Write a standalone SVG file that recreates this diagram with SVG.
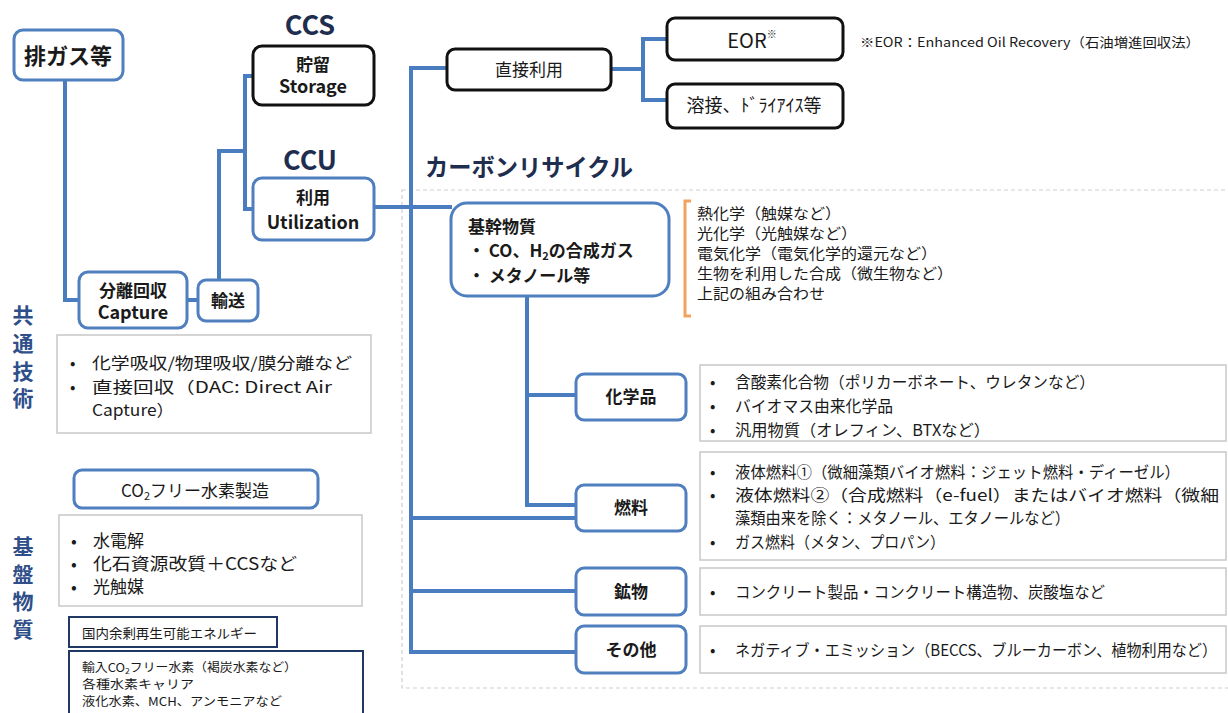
<svg xmlns="http://www.w3.org/2000/svg" width="1228" height="713" viewBox="0 0 1228 713">
<style>
text{font-family:"Noto Sans CJK JP","Noto Sans",sans-serif;fill:#1a1a1a}
.b{font-weight:bold}
.title{font-weight:bold;fill:#1f2d4f}
.side{font-weight:bold;fill:#2f4f8a;font-size:21px}
.conn{fill:none;stroke:#4a7cc0;stroke-width:4}
.bn{fill:#fff;stroke:#4f7fbf;stroke-width:3}
.kn{fill:#fff;stroke:#111;stroke-width:3}
.gb{fill:#fff;stroke:#c8c8c8;stroke-width:1.5}
.nb{fill:#fff;stroke:#1f3864;stroke-width:2}
.m{text-anchor:middle}
</style>
<rect x="402" y="190" width="840" height="498" fill="none" stroke="#cfcfcf" stroke-width="1.2" stroke-dasharray="4 3"/>
<g id="connectors">
<path class="conn" d="M65,80 V300 H80"/>
<path class="conn" d="M187,300 H198"/>
<path class="conn" d="M219,280 V151 H245"/>
<path class="conn" d="M253,76 H245 V209 H253"/>
<path class="conn" d="M374,207 H452"/>
<path class="conn" d="M447,68 H411 V652 H576"/>
<path class="conn" d="M411,518 H576"/>
<path class="conn" d="M411,591 H576"/>
<path class="conn" d="M611,69 H643"/>
<path class="conn" d="M667,39 H643 V100 H667"/>
<path class="conn" d="M527,296 V505 H576"/>
<path class="conn" d="M527,395 H576"/>
<path d="M691,201 H685 V316 H691" fill="none" stroke="#f0a25e" stroke-width="3"/>
</g>
<g id="haigas"><rect class="bn" x="14" y="30" width="109" height="50" rx="9"/><text class="b m" x="68" y="64" font-size="22">排ガス等</text></g>
<g id="capture"><rect class="bn" x="79" y="272" width="108" height="56" rx="9"/><text class="b m" x="133" y="297" font-size="17">分離回収</text><text class="b m" x="133" y="319" font-size="18">Capture</text></g>
<g id="yuso"><rect class="bn" x="198" y="280" width="60" height="41" rx="8"/><text class="b m" x="228" y="307" font-size="17">輸送</text></g>
<g id="ccs"><text class="title m" x="310" y="35" font-size="27">CCS</text><rect class="kn" x="253" y="46" width="121" height="59" rx="9"/><text class="b m" x="313" y="71" font-size="17">貯留</text><text class="b m" x="313" y="93" font-size="18">Storage</text></g>
<g id="ccu"><text class="title m" x="310" y="170" font-size="27">CCU</text><rect class="bn" x="253" y="178" width="121" height="62" rx="9"/><text class="b m" x="313" y="204" font-size="17">利用</text><text class="b m" x="313" y="229" font-size="18">Utilization</text></g>
<g id="chokusetsu"><rect class="kn" x="447" y="49" width="164" height="41" rx="8"/><text class="m" x="529" y="76" font-size="17">直接利用</text></g>
<g id="eor"><rect class="kn" x="667" y="18" width="176" height="42" rx="8"/><text class="m" x="752" y="48" font-size="20">EOR<tspan font-size="10" dy="-10">※</tspan></text></g>
<g id="yosetsu"><rect class="kn" x="667" y="84" width="176" height="44" rx="8"/><text class="m" x="754" y="112" font-size="18">溶接、ﾄﾞﾗｲｱｲｽ等</text></g>
<text x="860" y="47" font-size="13" fill="#333" textLength="340" lengthAdjust="spacingAndGlyphs">※EOR：Enhanced Oil Recovery（石油増進回収法）</text>
<g id="carbon-recycle"><text class="title" x="425" y="176" font-size="24" textLength="208" lengthAdjust="spacingAndGlyphs">カーボンリサイクル</text></g>
<g id="kikan"><rect class="bn" x="451" y="203" width="218" height="93" rx="16"/>
<text class="b" x="468" y="233" font-size="17">基幹物質</text>
<text class="b" x="468" y="257" font-size="17">・  CO、H<tspan font-size="11" dy="3">2</tspan><tspan dy="-3">の合成ガス</tspan></text>
<text class="b" x="468" y="282" font-size="17">・  メタノール等</text></g>
<g id="methods" font-size="15">
<text x="697" y="219" textLength="144" lengthAdjust="spacingAndGlyphs">熱化学（触媒など）</text>
<text x="697" y="239" textLength="160" lengthAdjust="spacingAndGlyphs">光化学（光触媒など）</text>
<text x="697" y="259" textLength="240" lengthAdjust="spacingAndGlyphs">電気化学（電気化学的還元など）</text>
<text x="697" y="279" textLength="256" lengthAdjust="spacingAndGlyphs">生物を利用した合成（微生物など）</text>
<text x="697" y="299" textLength="128" lengthAdjust="spacingAndGlyphs">上記の組み合わせ</text></g>
<g id="kagaku"><rect class="bn" x="576" y="374" width="110" height="46" rx="8"/><text class="b m" x="631" y="403" font-size="17">化学品</text>
<rect class="gb" x="700" y="365" width="526" height="76"/>
<g font-size="16"><text x="710" y="388">•</text><text x="735" y="388" textLength="360" lengthAdjust="spacingAndGlyphs">含酸素化合物（ポリカーボネート、ウレタンなど）</text>
<text x="710" y="412">•</text><text x="735" y="412" textLength="158" lengthAdjust="spacingAndGlyphs">バイオマス由来化学品</text>
<text x="710" y="436">•</text><text x="735" y="436" textLength="255" lengthAdjust="spacingAndGlyphs">汎用物質（オレフィン、BTXなど）</text></g></g>
<g id="nenryo"><rect class="bn" x="576" y="485" width="110" height="46" rx="8"/><text class="b m" x="631" y="514" font-size="17">燃料</text>
<rect class="gb" x="700" y="452" width="526" height="108"/>
<g font-size="16"><text x="710" y="478">•</text><text x="735" y="478" textLength="445" lengthAdjust="spacingAndGlyphs">液体燃料①（微細藻類バイオ燃料：ジェット燃料・ディーゼル）</text>
<text x="710" y="501">•</text><text x="735" y="501" textLength="484" lengthAdjust="spacingAndGlyphs">液体燃料②（合成燃料（e-fuel）またはバイオ燃料（微細</text>
<text x="735" y="524" textLength="335" lengthAdjust="spacingAndGlyphs">藻類由来を除く：メタノール、エタノールなど）</text>
<text x="710" y="548">•</text><text x="735" y="548" textLength="210" lengthAdjust="spacingAndGlyphs">ガス燃料（メタン、プロパン）</text></g></g>
<g id="kobutsu"><rect class="bn" x="576" y="568" width="110" height="47" rx="8"/><text class="b m" x="631" y="598" font-size="17">鉱物</text>
<rect class="gb" x="700" y="568" width="526" height="47"/>
<text x="710" y="598" font-size="16">•</text><text x="735" y="598" font-size="16" textLength="370" lengthAdjust="spacingAndGlyphs">コンクリート製品・コンクリート構造物、炭酸塩など</text></g>
<g id="sonota"><rect class="bn" x="576" y="626" width="110" height="47" rx="8"/><text class="b m" x="631" y="656" font-size="17">その他</text>
<rect class="gb" x="700" y="626" width="526" height="47"/>
<text x="710" y="656" font-size="16">•</text><text x="735" y="656" font-size="16" textLength="482" lengthAdjust="spacingAndGlyphs">ネガティブ・エミッション（BECCS、ブルーカーボン、植物利用など）</text></g>
<g id="kyotsu-gijutsu">
<text class="side m" x="23" y="323">共</text><text class="side m" x="23" y="351">通</text><text class="side m" x="23" y="379">技</text><text class="side m" x="23" y="406">術</text>
<rect class="gb" x="57" y="335" width="314" height="98"/>
<g font-size="16"><text x="70" y="369">•</text><text x="92" y="369" textLength="260" lengthAdjust="spacingAndGlyphs">化学吸収/物理吸収/膜分離など</text>
<text x="70" y="393">•</text><text x="92" y="393" textLength="240" lengthAdjust="spacingAndGlyphs">直接回収（DAC: Direct Air</text>
<text x="92" y="416" textLength="82" lengthAdjust="spacingAndGlyphs">Capture）</text></g></g>
<g id="kiban-busshitsu">
<text class="side m" x="23" y="554">基</text><text class="side m" x="23" y="582">盤</text><text class="side m" x="23" y="609">物</text><text class="side m" x="23" y="637">質</text>
<rect class="bn" x="74" y="470" width="244" height="38" rx="8"/>
<text class="m" x="195" y="497" font-size="17">CO<tspan font-size="11" dy="3">2</tspan><tspan dy="-3">フリー水素製造</tspan></text>
<rect class="gb" x="59" y="515" width="303" height="91"/>
<g font-size="17"><text x="71" y="547">•</text><text x="93" y="547">水電解</text>
<text x="71" y="570">•</text><text x="93" y="570" textLength="204" lengthAdjust="spacingAndGlyphs">化石資源改質＋CCSなど</text>
<text x="71" y="593">•</text><text x="93" y="593">光触媒</text></g>
<rect class="nb" x="69" y="617" width="208" height="30"/>
<text x="82" y="638" font-size="13" textLength="175" lengthAdjust="spacingAndGlyphs">国内余剰再生可能エネルギー</text>
<rect class="nb" x="69" y="651" width="294" height="70"/>
<g font-size="12"><text x="82" y="672" textLength="215" lengthAdjust="spacingAndGlyphs">輸入CO<tspan font-size="8" dy="2">2</tspan><tspan dy="-2">フリー水素（褐炭水素など）</tspan></text>
<text x="82" y="689" textLength="112" lengthAdjust="spacingAndGlyphs">各種水素キャリア</text>
<text x="82" y="706" textLength="200" lengthAdjust="spacingAndGlyphs">液化水素、MCH、アンモニアなど</text></g></g>
</svg>
